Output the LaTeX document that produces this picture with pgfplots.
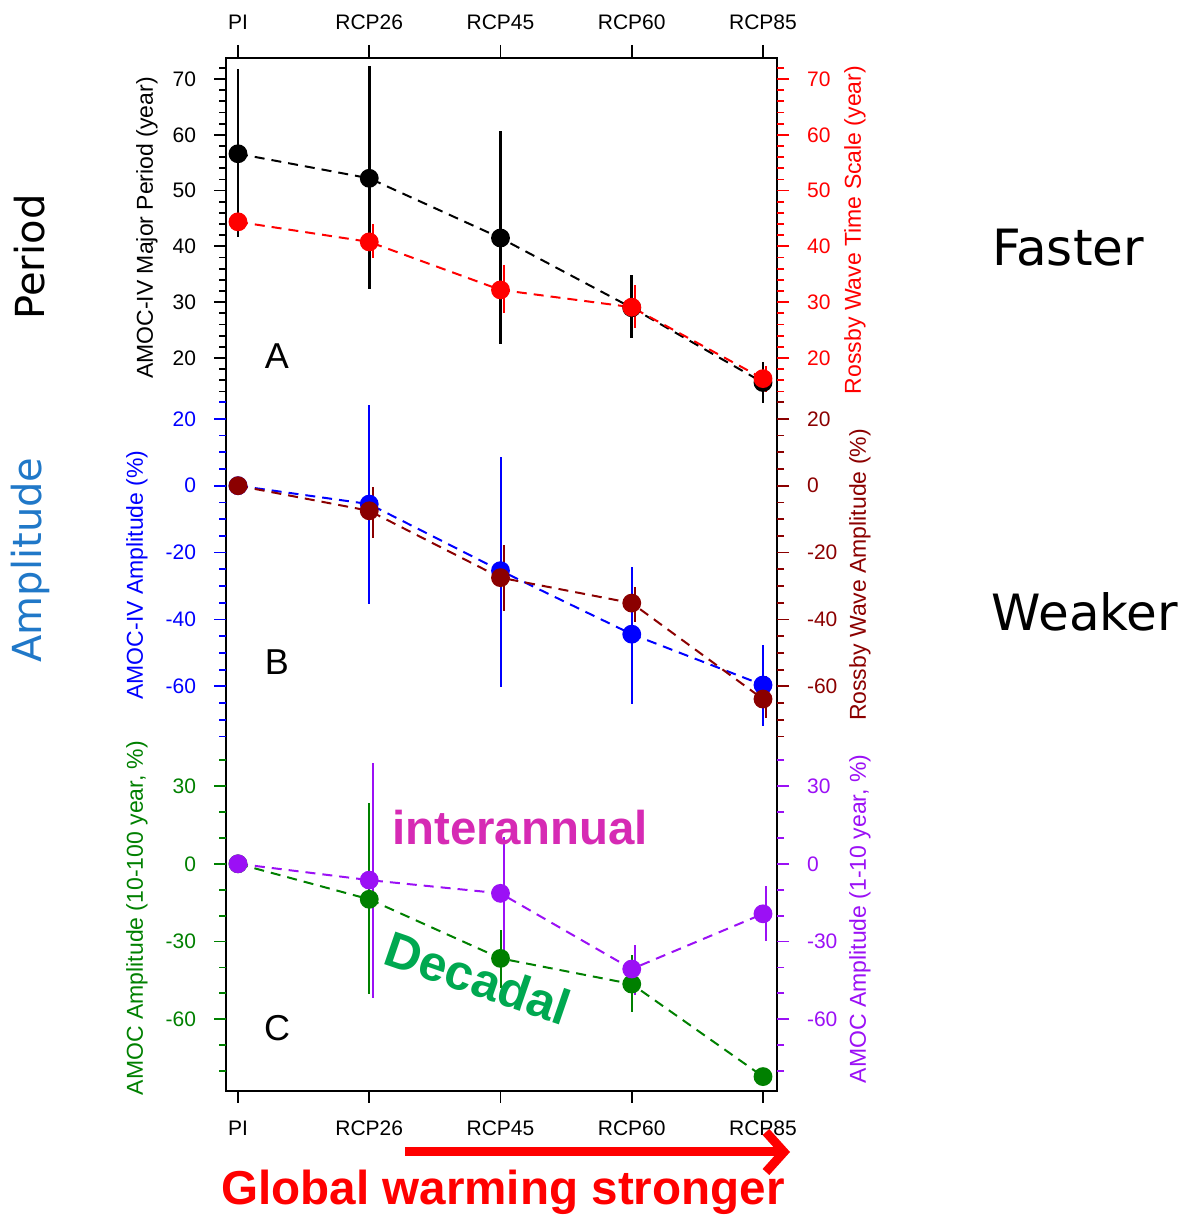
\documentclass[border=0pt]{standalone}
\usepackage{fontspec}
\setmainfont{Liberation Sans}
\newfontfamily\verd{DejaVu Sans}
\usepackage{pgfplots}
\usepackage{pgfplotstable}
\pgfplotsset{compat=1.18}
\usetikzlibrary{arrows.meta}

\definecolor{cRed}{HTML}{FF0000}
\definecolor{cBlue}{HTML}{0000FF}
\definecolor{cBrown}{HTML}{8B0000}
\definecolor{cGreen}{HTML}{008000}
\definecolor{cPurple}{HTML}{9B10F5}
\definecolor{cMagenta}{HTML}{D62AB4}
\definecolor{cDecadal}{HTML}{00A850}
\definecolor{cAmp}{HTML}{2078C8}

\newcommand\ticksize{\fontsize{10.5}{12}\selectfont}
\newcommand\labsize{\fontsize{11.5}{13}\selectfont}

% scenario, value, upper and lower end of the range
\pgfplotstableread{
x y hi lo
0 56.6 71.8 41.6
1 52.2 72.3 32.3
2 41.5 60.6 22.5
3 29.0 34.9 23.5
4 15.6 19.3 12.0
}\periodAMOC
\pgfplotstableread{
x y hi lo
0 44.4 44.4 44.4
1 40.8 44.0 37.9
2 32.2 36.7 28.0
3 29.1 33.1 25.3
4 16.3 18.6 13.9
}\periodRossby
\pgfplotstableread{
x y hi lo
0 0 0 0
1 -5.5 24.1 -35.5
2 -25.4 8.5 -60.1
3 -44.4 -24.3 -65.3
4 -59.6 -47.7 -72.0
}\ampAMOC
\pgfplotstableread{
x y hi lo
0 0 0 0
1 -7.5 -0.3 -15.5
2 -27.5 -17.7 -37.5
3 -35.1 -30.4 -40.8
4 -63.8 -57.0 -69.5
}\ampRossby
\pgfplotstableread{
x y hi lo
0 0 0 0
1 -13.7 23.3 -50.2
2 -36.5 -25.5 -48.0
3 -46.4 -35.0 -57.1
4 -82.1 -82.1 -82.1
}\ampDecadal
\pgfplotstableread{
x y hi lo
0 0 0 0
1 -6.3 39.0 -51.9
2 -11.4 10.5 -35.8
3 -40.6 -31.3 -50.6
4 -19.3 -8.6 -29.6
}\ampInterannual

\pgfplotsset{
  frame/.style={scale only axis, width=275.5pt, height=516.5pt,
    at={(113pt,62.5pt)}, anchor=south west,
    xmin=-0.0914, xmax=4.1067, clip=false},
  panel/.style={frame, hide x axis, axis line style={draw=none},
    tick align=outside, major tick length=6pt, minor tick length=3.5pt,
    yticklabel style={font=\ticksize}},
  leftax/.style={panel, ytick pos=left,
    tick style={#1, line width=0.9pt}, yticklabel style={color=#1, xshift=-5.5pt}},
  rightax/.style={panel, ytick pos=right,
    tick style={#1, line width=0.9pt}, yticklabel style={color=#1, xshift=5.5pt}},
  series/.style={#1, line width=1pt, dash pattern=on 5pt off 3.5pt,
    mark=*, mark size=4.2pt, mark options={solid, fill=#1, draw=#1}},
  ranges/.style 2 args={draw=none, mark=none, forget plot,
    error bars/.cd, y dir=both, y explicit, error mark=none,
    error bar style={solid, draw=#1, line width=#2}},
  /pgfplots/table/witherr/.style={x=x, y=y,
    y error plus expr=\thisrow{hi}-\thisrow{y},
    y error minus expr=\thisrow{y}-\thisrow{lo}},
  /pgfplots/table/witherrshift/.style={x expr=\thisrow{x}+0.025, y=y,
    y error plus expr=\thisrow{hi}-\thisrow{y},
    y error minus expr=\thisrow{y}-\thisrow{lo}},
}

\begin{document}
\begin{tikzpicture}
\path[use as bounding box] (0,0) rectangle (593pt,608pt);

% outer frame with the scenario ticks below
\begin{axis}[frame, ymin=0, ymax=1, ytick=\empty,
  xtick={0,...,4}, xticklabels={PI,RCP26,RCP45,RCP60,RCP85},
  xtick pos=lower, xticklabel pos=lower, tick align=outside,
  major tick length=6pt, tick style={black, line width=0.9pt},
  axis line style={line width=0.9pt},
  xticklabel style={font=\ticksize, yshift=-5.5pt}]
\end{axis}
% scenario ticks above
\begin{axis}[frame, ymin=0, ymax=1, ytick=\empty, axis line style={draw=none},
  xtick={0,...,4}, xticklabels={PI,RCP26,RCP45,RCP60,RCP85},
  xtick pos=upper, xticklabel pos=upper, tick align=outside,
  major tick length=6.5pt, tick style={black, line width=0.9pt},
  xticklabel style={font=\ticksize, yshift=4pt}]
\end{axis}

% A: period
\begin{axis}[leftax=black, ymin=-111.36, ymax=73.76,
  ytick={20,30,40,50,60,70}, yticklabels={20,30,40,50,60,70},
  minor ytick={14,16,...,72}]
  \addplot[ranges={black}{1.4pt}] table[witherr] {\periodAMOC};
  \addplot[series=black] table[x=x, y=y] {\periodAMOC};
  \addplot[ranges={cRed}{1pt}] table[witherrshift] {\periodRossby};
  \addplot[series=cRed] table[x=x, y=y] {\periodRossby};
\end{axis}
\begin{axis}[rightax=cRed, ymin=-111.36, ymax=73.76,
  ytick={20,30,40,50,60,70}, yticklabels={20,30,40,50,60,70},
  minor ytick={14,16,...,72}]
\end{axis}

% B: amplitude
\begin{axis}[leftax=cBlue, ymin=-181.0, ymax=127.9,
  ytick={-60,-40,-20,0,20}, yticklabels={-60,-40,-20,0,20},
  minor ytick={-75,-70,...,25}]
  \addplot[ranges={cBlue}{1pt}] table[witherr] {\ampAMOC};
  \addplot[series=cBlue] table[x=x, y=y] {\ampAMOC};
  \addplot[ranges={cBrown}{1pt}] table[witherrshift] {\ampRossby};
  \addplot[series=cBrown] table[x=x, y=y] {\ampRossby};
\end{axis}
\begin{axis}[rightax=cBrown, ymin=-181.0, ymax=127.9,
  ytick={-60,-40,-20,0,20}, yticklabels={-60,-40,-20,0,20},
  minor ytick={-75,-70,...,25}]
\end{axis}

% C: decadal and interannual amplitude
\begin{axis}[leftax=cGreen, ymin=-87.66, ymax=310.9,
  ytick={-60,-30,0,30}, yticklabels={-60,-30,0,30},
  minor ytick={-80,-70,...,40}]
  \addplot[ranges={cGreen}{1pt}] table[witherr] {\ampDecadal};
  \addplot[series=cGreen] table[x=x, y=y] {\ampDecadal};
  \addplot[ranges={cPurple}{1pt}] table[witherrshift] {\ampInterannual};
  \addplot[series=cPurple] table[x=x, y=y] {\ampInterannual};
\end{axis}
\begin{axis}[rightax=cPurple, ymin=-87.66, ymax=310.9,
  ytick={-60,-30,0,30}, yticklabels={-60,-30,0,30},
  minor ytick={-80,-70,...,40}]
\end{axis}

% axis titles
\node[rotate=90, font=\labsize, text=black] at (73.5pt,494pt) {AMOC-IV Major Period (year)};
\node[rotate=90, font=\labsize, text=cRed] at (427.5pt,493pt) {Rossby Wave Time Scale (year)};
\node[rotate=90, font=\labsize, text=cBlue] at (68.5pt,320.5pt) {AMOC-IV Amplitude (\%)};
\node[rotate=90, font=\labsize, text=cBrown] at (430pt,320.5pt) {Rossby Wave Amplitude (\%)};
\node[rotate=90, font=\labsize, text=cGreen] at (68.5pt,149pt) {AMOC Amplitude (10-100 year, \%)};
\node[rotate=90, font=\labsize, text=cPurple] at (430pt,148.5pt) {AMOC Amplitude (1-10 year, \%)};

% panel letters
\node[font=\fontsize{18}{20}\selectfont] at (138.5pt,430pt) {A};
\node[font=\fontsize{18}{20}\selectfont] at (138.5pt,277pt) {B};
\node[font=\fontsize{18}{20}\selectfont] at (138.5pt,94pt) {C};

% annotations
\node[inner sep=0pt, font=\fontsize{23.7}{26}\selectfont\bfseries, text=cMagenta] at (260pt,194pt) {interannual};
\node[inner sep=0pt, font=\fontsize{25}{27}\selectfont\bfseries, text=cDecadal, rotate=-19] at (239pt,119pt) {Decadal};
\node[rotate=90, font=\verd\fontsize{20}{22}\selectfont] at (15pt,479.5pt) {Period};
\node[rotate=90, font=\verd\fontsize{20}{22}\selectfont, text=cAmp] at (15pt,328pt) {Amplitude};
\node[font=\verd\fontsize{25}{27}\selectfont] at (534pt,484pt) {Faster};
\node[font=\verd\fontsize{25}{27}\selectfont] at (542.5pt,302pt) {Weaker};
\draw[cRed, line width=4.5pt, -{Straight Barb[length=9pt, width=20pt]}] (202.5pt,32pt) -- (395pt,32pt);
\node[inner sep=0pt, font=\fontsize{23.8}{26}\selectfont\bfseries, text=cRed] at (251.5pt,12pt) {Global warming stronger};
\end{tikzpicture}
\end{document}
